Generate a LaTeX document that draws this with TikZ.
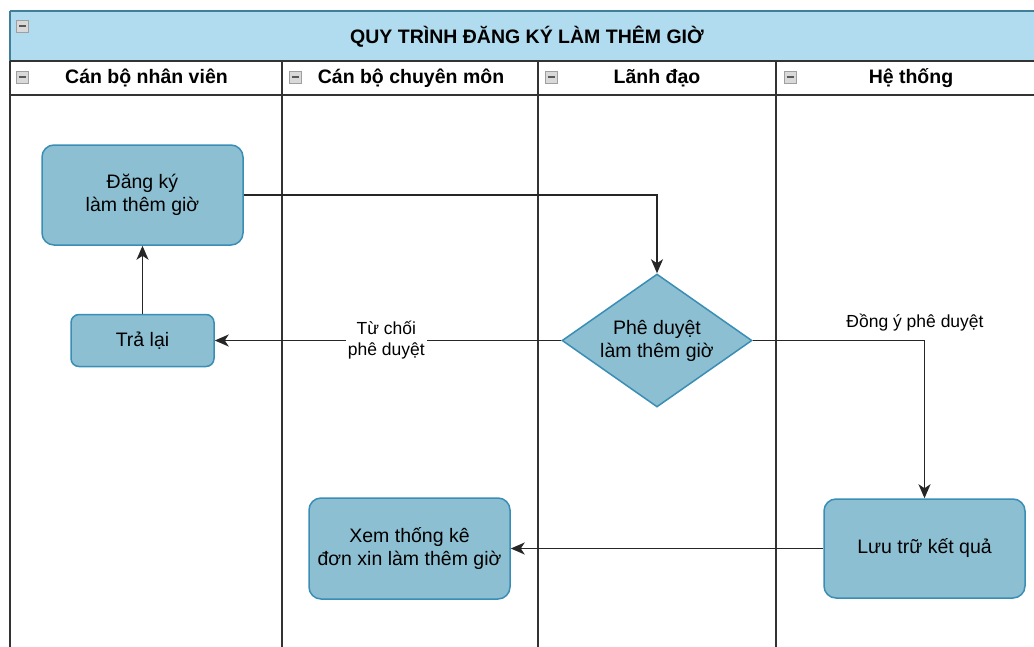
\documentclass[tikz,border=0pt]{standalone}
\usepackage{fontspec}
\setmainfont{Liberation Sans}
\usetikzlibrary{shapes.geometric,arrows.meta}

\definecolor{poolfill}{HTML}{B1DCEF}
\definecolor{pooledge}{HTML}{3F7F98}
\definecolor{stepfill}{HTML}{8CBFD2}
\definecolor{stepedge}{HTML}{3A8DB4}
\definecolor{laneline}{HTML}{333333}

\tikzset{
  lanerule/.style={draw=laneline, line width=1.7pt},
  headtext/.style={font=\fontsize{19.5}{22}\selectfont\bfseries, inner sep=0pt, anchor=center},
  collapser/.style={draw=gray!75, fill=gray!30, minimum width=12pt, minimum height=12pt, inner sep=0pt,
    line width=0.8pt,
    path picture={\draw[black!65, line width=1.6pt]
      ([xshift=2.5pt]path picture bounding box.west) -- ([xshift=-2.5pt]path picture bounding box.east);}},
  stepbox/.style={draw=stepedge, fill=stepfill, line width=1.5pt, rounded corners=12pt,
    align=center, inner sep=0pt, font=\fontsize{19.5}{23}\selectfont},
  decision/.style={diamond, draw=stepedge, fill=stepfill, line width=1.5pt, aspect=1.43,
    align=center, inner sep=0pt, font=\fontsize{19.5}{23}\selectfont,
    minimum width=190pt, minimum height=133pt},
  flow/.style={draw=black!85, line width=1.8pt, -{Stealth[length=14pt,width=12pt,inset=4pt]}},
  flowlabel/.style={font=\fontsize{17.5}{21}\selectfont, align=center, inner sep=2pt},
}

\begin{document}
\begin{tikzpicture}[x=1pt,y=-1pt]
\useasboundingbox (0,0) rectangle (1034,646);
\begin{scope}
\clip (0,0) rectangle (1034,646);

% pool title bar
\fill[poolfill] (10,11) rectangle (1046,61);
\draw[pooledge, line width=1.6pt] (10,11) -- (1046,11);
\draw[pooledge, line width=1.4pt] (10,11) -- (10,61);
\node[headtext] (title) at (527,37) {QUY TRÌNH ĐĂNG KÝ LÀM THÊM GIỜ};
\node[collapser] (tcol) at (22.5,26) {};

% lanes: header row and bodies
\draw[lanerule] (10,61) -- (1046,61);
\draw[lanerule] (10,95) -- (1046,95);
\draw[lanerule] (10,61) -- (10,660);
\draw[lanerule] (282,61) -- (282,660);
\draw[lanerule] (538,61) -- (538,660);
\draw[lanerule] (776,61) -- (776,660);

\node[headtext] (h1) at (146.5,78) {Cán bộ nhân viên};
\node[headtext] (h2) at (411,78) {Cán bộ chuyên môn};
\node[headtext] (h3) at (657,78) {Lãnh đạo};
\node[headtext] (h4) at (911,78) {Hệ thống};
\node[collapser] (c1) at (22.5,77) {};
\node[collapser] (c2) at (295,77) {};
\node[collapser] (c3) at (551,77) {};
\node[collapser] (c4) at (790,77) {};

% process steps
\node[stepbox, minimum width=201pt, minimum height=100pt] (dangky) at (142.5,195) {Đăng ký\\làm thêm giờ};
\node[stepbox, minimum width=143pt, minimum height=52pt, rounded corners=8pt] (tralai) at (142.5,340.5) {Trả lại};
\node[decision] (pheduyet) at (657,340.5) {Phê duyệt\\làm thêm giờ};
\node[stepbox, minimum width=201pt, minimum height=101pt] (xem) at (409.5,548.5) {Xem thống kê\\đơn xin làm thêm giờ};
\node[stepbox, minimum width=201pt, minimum height=99pt] (luutru) at (924.5,548.5) {Lưu trữ kết quả};

% connectors
\draw[flow] (dangky.east) -| (pheduyet.north);
\draw[flow] (pheduyet.west) -- (tralai.east)
  node[flowlabel, fill=white, pos=0.505] (tuchoi) {Từ chối\\phê duyệt};
\draw[flow] (pheduyet.east) -| (luutru.north);
\node[flowlabel] (dongy) at (915,323) {Đồng ý phê duyệt};
\draw[flow] (luutru.west) -- (xem.east);
\draw[flow] (tralai.north) -- (dangky.south);
\end{scope}
\end{tikzpicture}
\end{document}
